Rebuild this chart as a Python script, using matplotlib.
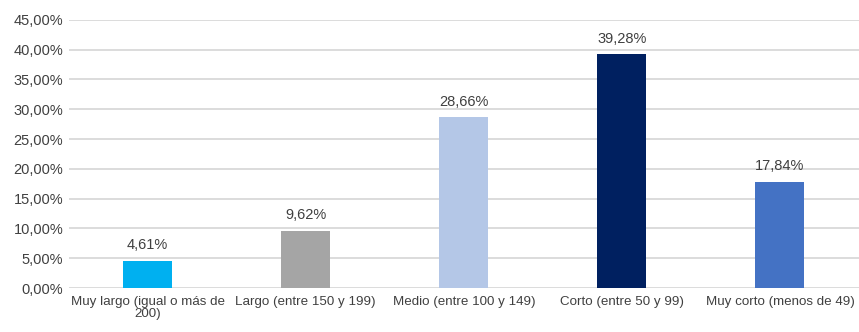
import matplotlib.pyplot as plt
from matplotlib.ticker import FuncFormatter

categories = [
    "Muy largo (igual o más de\n200)",
    "Largo (entre 150 y 199)",
    "Medio (entre 100 y 149)",
    "Corto (entre 50 y 99)",
    "Muy corto (menos de 49)",
]
values = [4.61, 9.62, 28.66, 39.28, 17.84]
colors = ["#00B0F0", "#A5A5A5", "#B4C7E7", "#002060", "#4472C4"]
y_ticks = [0, 5, 10, 15, 20, 25, 30, 35, 40, 45]

plt.rcParams["font.family"] = ["Liberation Sans Narrow", "Liberation Sans", "DejaVu Sans"]
text_color = "#404040"

fig = plt.figure(figsize=(8.59, 3.32), dpi=100)
ax = fig.add_axes([0.080, 0.1325, 0.92, 0.8075])

x = range(len(categories))
ax.bar(x, values, width=0.31, color=colors, zorder=3)

for xi, v in zip(x, values):
    ax.text(xi, v + 1.4, f"{v:.2f}%".replace(".", ","), ha="center", va="bottom",
            fontsize=10.5, color=text_color)

ax.set_xlim(-0.5, len(categories) - 0.5)
ax.set_ylim(0, 45)
ax.set_yticks(y_ticks)
ax.yaxis.set_major_formatter(FuncFormatter(lambda v, _: f"{v:.2f}%".replace(".", ",")))
ax.set_xticks(list(x))
ax.set_xticklabels(categories, linespacing=0.95)
ax.tick_params(axis="both", length=0, labelsize=10.5, colors=text_color)
ax.tick_params(axis="x", labelsize=9.6, pad=6)
ax.tick_params(axis="y", pad=4)
ax.get_xticklabels()[-1].set_x(3.98)

ax.grid(axis="y", color="#D9D9D9", linewidth=1.3, zorder=0)
for spine in ax.spines.values():
    spine.set_visible(False)

fig.savefig("out.png", dpi=100)
